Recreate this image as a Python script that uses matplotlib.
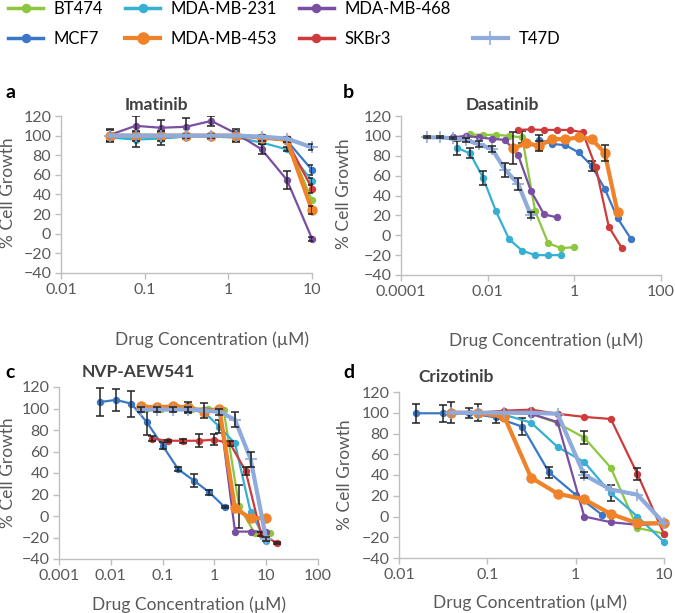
import matplotlib
matplotlib.use('Agg')
import matplotlib.pyplot as plt
from matplotlib.lines import Line2D
from matplotlib.ticker import FixedLocator, FixedFormatter, NullLocator

plt.rcParams['font.family'] = ['Lato', 'DejaVu Sans']

# ---------------- data ----------------
SERIES = ['BT474', 'MCF7', 'MDA-MB-231', 'MDA-MB-468', 'SKBr3', 'MDA-MB-453', 'T47D']
COLORS = {'BT474': '#8DC63F', 'MCF7': '#3A78C7', 'MDA-MB-231': '#36B0D2',
          'MDA-MB-468': '#7A4FA1', 'SKBr3': '#CF3B3B', 'MDA-MB-453': '#F0822A',
          'T47D': '#8EABDC'}

Y_TICKS = [-40, -20, 0, 20, 40, 60, 80, 100, 120]

# a: Imatinib
IMA_X = [0.039, 0.078, 0.156, 0.3125, 0.625, 1.25, 2.5, 5, 10]
IMA_XTICKS = [0.01, 0.1, 1, 10]
IMA_XLABELS = ['0.01', '0.1', '1', '10']
IMA_BT474 = [100, 99, 100, 100, 100, 100, 98, 96, 34]
IMA_MCF7 = [100, 100, 100, 100, 100, 100, 98, 95, 65]
IMA_231 = [98, 96, 97, 99, 99, 98, 93, 86, 54]
IMA_453 = [100, 100, 100, 100, 100, 100, 98, 96, 24]
IMA_468 = [101, 110, 108, 109, 115, 102, 86, 55, -5]
IMA_SKBR3 = [100, 100, 100, 100, 100, 100, 98, 95, 46]
IMA_T47D = [100, 100, 100, 100, 100, 100, 99, 97, 88]
IMA_ERR_468 = [6, 10, 8, 9, 5, 3, 5, 9, 2]
IMA_ERR_453 = [6, 5, 5, 2, 2, 7, 3, 3, 4]
IMA_ERR_231 = [3, 8, 7, 2, 2, 3, 2, 2, 3]
IMA_ERR_T47D = [0, 0, 0, 0, 0, 0, 0, 0, 3]
IMA_ERR_MCF7 = [0, 0, 0, 0, 0, 0, 0, 0, 5]
IMA_ERR_SKBR3 = [0, 0, 0, 0, 0, 0, 0, 0, 4]

# b: Dasatinib
DAS_XTICKS = [0.0001, 0.01, 1, 100]
DAS_XLABELS = ['0.0001', '0.01', '1', '100']
DAS_X_BT474 = [0.0039, 0.0078, 0.0156, 0.03125, 0.0625, 0.125, 0.25, 0.5, 1]
DAS_BT474 = [101.5, 101, 101, 100, 98.5, 24, -8, -13, -12]
DAS_ERR_BT474 = [0, 0, 0, 0, 6, 0, 0, 0, 0]
DAS_X_MCF7 = [0.156, 0.3125, 0.625, 1.25, 2.5, 5, 10, 20]
DAS_MCF7 = [96, 92, 90.5, 83.5, 70, 47, 17, -3.3]
DAS_ERR_MCF7 = [5, 0, 0, 0, 5, 0, 0, 0]
DAS_X_231 = [0.00195, 0.0039, 0.0078, 0.0156, 0.03125, 0.0625, 0.125, 0.25, 0.5]
DAS_231 = [88, 82.5, 58, 24, -4, -15.5, -20, -20, -20]
DAS_ERR_231 = [7, 5, 7, 0, 0, 0, 0, 0, 0]
DAS_X_468 = [0.00156, 0.003125, 0.00625, 0.0125, 0.025, 0.05, 0.1, 0.2, 0.4]
DAS_468 = [98.5, 100, 98.5, 97, 96, 81, 44.5, 21, 18]
DAS_X_SKBR3 = [0.049, 0.098, 0.195, 0.39, 0.78, 1.5625, 3.125, 6.25, 12.5]
DAS_SKBR3 = [106, 106.5, 106, 106, 106, 103.5, 68.5, 8.5, -13]
DAS_X_453 = [0.039, 0.078, 0.156, 0.3125, 0.625, 1.25, 2.5, 5, 10]
DAS_453 = [87.5, 92.5, 90, 97, 96.5, 98.5, 97, 83, 23]
DAS_ERR_453 = [16, 0, 5, 0, 0, 0, 0, 8, 0]
DAS_X_T47D = [0.00039, 0.00078, 0.00156, 0.003125, 0.00625, 0.0125, 0.025, 0.05, 0.1]
DAS_T47D = [98.5, 98.5, 97.5, 96, 91.5, 87, 66, 52, 20]
DAS_ERR_T47D = [1, 1, 1, 2, 3, 3, 7, 6, 3]

# c: NVP-AEW541
NVP_XTICKS = [0.001, 0.01, 0.1, 1, 10, 100]
NVP_XLABELS = ['0.001', '0.01', '0.1', '1', '10', '100']
NVP_X = [0.039, 0.078, 0.156, 0.3125, 0.625, 1.25, 2.5, 5, 10]
NVP_X_BT474 = [0.047, 0.094, 0.1875, 0.375, 0.75, 1.5, 3, 6, 12]
NVP_BT474 = [100, 100, 101, 100, 100, 99, 9, -16, -16]
NVP_ERR_BT474 = [0, 0, 0, 0, 0, 0, 20, 0, 0]
NVP_X_MCF7 = [0.00625, 0.0125, 0.025, 0.05, 0.1, 0.2, 0.4, 0.8, 1.6]
NVP_MCF7 = [106, 108, 104.5, 87, 65.5, 43.5, 33, 22, 8]
NVP_ERR_MCF7 = [13, 10, 12, 12, 3, 2, 6, 2, 1]
NVP_231 = [100, 100, 100, 99, 97, 83, 67.5, 3.5, -23]
NVP_ERR_231 = [0, 0, 0, 0, 0, 6, 0, 0, 0]
NVP_468 = [100, 100, 100, 100, 99, 99, -14.5, -14.5, -14.5]
NVP_X_SKBR3 = [0.0625, 0.125, 0.25, 0.5, 1, 2, 4, 8, 16]
NVP_SKBR3 = [72, 70, 70, 70, 71, 67.5, 42, -17, -25]
NVP_ERR_SKBR3 = [2, 1, 2, 6, 5, 2, 4, 2, 1]
NVP_453 = [102, 101, 102, 101, 97, 99.5, 7, -2, -2]
NVP_ERR_453 = [0, 0, 0, 5, 0, 0, 0, 0, 0]
NVP_T47D = [99, 99, 99, 99, 98, 97, 89.5, 53, -21.5]
NVP_ERR_T47D = [2, 2, 2, 2, 7, 3, 7, 7, 2]

# d: Crizotinib
CRI_XTICKS = [0.01, 0.1, 1, 10]
CRI_XLABELS = ['0.01', '0.1', '1', '10']
CRI_X = [0.039, 0.078, 0.156, 0.3125, 0.625, 1.25, 2.5, 5, 10]
CRI_BT474 = [100, 100, 100, 99, 90, 76, 47, -11, -16.5]
CRI_ERR_BT474 = [0, 0, 0, 0, 0, 6, 0, 0, 0]
CRI_X_MCF7 = [0.0156, 0.03125, 0.0625, 0.125, 0.25, 0.5, 1, 2]
CRI_MCF7 = [99.5, 99.5, 99.5, 95.5, 86.5, 42.5, 21, 1.5]
CRI_ERR_MCF7 = [9, 8, 5, 5, 8, 5, 0, 0]
CRI_231 = [100, 100, 98, 90.5, 67, 52.5, 22.5, 0, -24.5]
CRI_ERR_231 = [0, 0, 0, 0, 0, 0, 8, 0, 0]
CRI_468 = [100, 100, 100, 99, 91, 0, -5.5, -8, -7]
CRI_SKBR3 = [100, 100, 102, 103, 99, 96, 94, 41, -17]
CRI_ERR_SKBR3 = [0, 0, 0, 0, 0, 0, 0, 6, 0]
CRI_453 = [100, 100, 96, 37.5, 22, 16.5, 2.5, -6.5, -6.5]
CRI_ERR_453 = [10, 8, 0, 0, 0, 0, 0, 0, 0]
CRI_T47D = [100, 100, 100, 100, 99, 40, 26, 21, -6.5]
CRI_ERR_T47D = [0, 0, 0, 0, 0, 3, 0, 0, 0]

# ---------------- styles ----------------
def style(name):
    if name == 'MDA-MB-453':
        return dict(marker='o', ms=7.5, lw=3.0)
    if name == 'T47D':
        return dict(marker='+', ms=9, lw=3.0, mew=1.2)
    return dict(marker='o', ms=5.3, lw=1.6)

fig = plt.figure(figsize=(6.75, 6.13), dpi=100)
W, H = 675.0, 613.0

def make_ax(l, r, t, b):
    return fig.add_axes([l / W, 1 - b / H, (r - l) / W, (b - t) / H])

GRAY_AX = '#BFBFBF'
TXT = '#595959'

def setup(ax, xticks, xlabels, xlim):
    ax.set_xscale('log')
    ax.set_xlim(*xlim)
    ax.set_ylim(-40, 120)
    ax.xaxis.set_major_locator(FixedLocator(xticks))
    ax.xaxis.set_major_formatter(FixedFormatter(xlabels))
    ax.xaxis.set_minor_locator(NullLocator())
    ax.set_yticks(Y_TICKS)
    for s in ['top', 'right']:
        ax.spines[s].set_visible(False)
    for s in ['left', 'bottom']:
        ax.spines[s].set_color(GRAY_AX)
        ax.spines[s].set_linewidth(1.0)
    ax.tick_params(axis='both', direction='out', length=4, width=1, color=GRAY_AX,
                   labelcolor=TXT, labelsize=11.5, pad=3)
    ax.set_ylabel('% Cell Growth', color=TXT, fontsize=12.5)
    ax.set_xlabel('Drug Concentration (µM)', color=TXT, fontsize=12.5)

def plot(ax, name, x, y, err=None, z=2):
    st = style(name)
    c = COLORS[name]
    ax.plot(x, y, color=c, marker=st['marker'], ms=st['ms'], lw=st['lw'],
            mew=st.get('mew', 0), mec=c, mfc=c, zorder=z, clip_on=False)
    if err is not None:
        xe = [xi for xi, e in zip(x, err) if e > 0]
        ye = [yi for yi, e in zip(y, err) if e > 0]
        ee = [e for e in err if e > 0]
        ax.errorbar(xe, ye, yerr=ee, fmt='none', ecolor='#222222', elinewidth=1.1,
                    capsize=2.6, capthick=1.1, zorder=z + 0.5)

# ---- a ----
axa = make_ax(61, 312, 116, 273)
setup(axa, IMA_XTICKS, IMA_XLABELS, (0.01, 10))
plot(axa, 'BT474', IMA_X, IMA_BT474, None, 2)
plot(axa, 'MCF7', IMA_X, IMA_MCF7, IMA_ERR_MCF7, 3)
plot(axa, 'MDA-MB-231', IMA_X, IMA_231, IMA_ERR_231, 4)
plot(axa, 'MDA-MB-468', IMA_X, IMA_468, IMA_ERR_468, 5)
plot(axa, 'SKBr3', IMA_X, IMA_SKBR3, IMA_ERR_SKBR3, 6)
plot(axa, 'MDA-MB-453', IMA_X, IMA_453, IMA_ERR_453, 7)
plot(axa, 'T47D', IMA_X, IMA_T47D, IMA_ERR_T47D, 8)
axa.xaxis.set_label_coords(0.60, -0.37)
axa.yaxis.set_label_coords(-0.18, 0.51)
axa.text(0.38, 1.07, 'Imatinib', transform=axa.transAxes, ha='center', va='center',
         fontsize=12.5, fontweight='bold', color='#404040')

# ---- b ----
axb = make_ax(401, 661, 116, 275)
setup(axb, DAS_XTICKS, DAS_XLABELS, (0.0001, 100))
plot(axb, 'BT474', DAS_X_BT474, DAS_BT474, DAS_ERR_BT474, 2)
plot(axb, 'MCF7', DAS_X_MCF7, DAS_MCF7, DAS_ERR_MCF7, 3)
plot(axb, 'MDA-MB-231', DAS_X_231, DAS_231, DAS_ERR_231, 4)
plot(axb, 'MDA-MB-468', DAS_X_468, DAS_468, None, 5)
plot(axb, 'SKBr3', DAS_X_SKBR3, DAS_SKBR3, None, 6)
plot(axb, 'MDA-MB-453', DAS_X_453, DAS_453, DAS_ERR_453, 7)
plot(axb, 'T47D', DAS_X_T47D, DAS_T47D, DAS_ERR_T47D, 8)
axb.xaxis.set_label_coords(0.558, -0.36)
axb.yaxis.set_label_coords(-0.19, 0.51)
axb.text(0.39, 1.07, 'Dasatinib', transform=axb.transAxes, ha='center', va='center',
         fontsize=12.5, fontweight='bold', color='#404040')

# ---- c ----
axc = make_ax(59, 318, 387, 559)
setup(axc, NVP_XTICKS, NVP_XLABELS, (0.001, 100))
plot(axc, 'BT474', NVP_X_BT474, NVP_BT474, NVP_ERR_BT474, 2)
plot(axc, 'MCF7', NVP_X_MCF7, NVP_MCF7, NVP_ERR_MCF7, 3)
plot(axc, 'MDA-MB-231', NVP_X, NVP_231, NVP_ERR_231, 4)
plot(axc, 'MDA-MB-468', NVP_X, NVP_468, None, 5)
plot(axc, 'SKBr3', NVP_X_SKBR3, NVP_SKBR3, NVP_ERR_SKBR3, 6)
plot(axc, 'MDA-MB-453', NVP_X, NVP_453, NVP_ERR_453, 7)
plot(axc, 'T47D', NVP_X, NVP_T47D, NVP_ERR_T47D, 8)
axc.xaxis.set_label_coords(0.5, -0.215)
axc.yaxis.set_label_coords(-0.165, 0.5)
axc.text(0.305, 1.09, 'NVP-AEW541', transform=axc.transAxes, ha='center', va='center',
         fontsize=12.5, fontweight='bold', color='#404040')

# ---- d ----
axd = make_ax(399, 664, 392, 558)
setup(axd, CRI_XTICKS, CRI_XLABELS, (0.01, 10))
plot(axd, 'BT474', CRI_X, CRI_BT474, CRI_ERR_BT474, 2)
plot(axd, 'MCF7', CRI_X_MCF7, CRI_MCF7, CRI_ERR_MCF7, 3)
plot(axd, 'MDA-MB-231', CRI_X, CRI_231, CRI_ERR_231, 4)
plot(axd, 'MDA-MB-468', CRI_X, CRI_468, None, 5)
plot(axd, 'SKBr3', CRI_X, CRI_SKBR3, CRI_ERR_SKBR3, 6)
plot(axd, 'MDA-MB-453', CRI_X, CRI_453, CRI_ERR_453, 7)
plot(axd, 'T47D', CRI_X, CRI_T47D, CRI_ERR_T47D, 8)
axd.xaxis.set_label_coords(0.494, -0.222)
axd.yaxis.set_label_coords(-0.172, 0.5)
axd.text(0.214, 1.09, 'Crizotinib', transform=axd.transAxes, ha='center', va='center',
         fontsize=12.5, fontweight='bold', color='#404040')

# panel letters
for lbl, (px, py) in zip(['a', 'b', 'c', 'd'], [(5, 92), (343, 92), (5, 372), (343, 372)]):
    fig.text(px / W, 1 - py / H, lbl, fontsize=14, fontweight='bold', color='black',
             ha='left', va='center')

# legend
def handle(name):
    st = style(name)
    c = COLORS[name]
    return Line2D([0], [0], color=c, marker=st['marker'], ms=st['ms'] + 1.5,
                  lw=max(st['lw'], 2.5), mew=st.get('mew', 0), mec=c, mfc=c)

blank = Line2D([0], [0], color='none', lw=0)
order = ['BT474', 'MCF7', 'MDA-MB-231', 'MDA-MB-453', 'MDA-MB-468', 'SKBr3', None, 'T47D']
handles = [handle(n) if n else blank for n in order]
labels = [n if n else '' for n in order]
fig.legend(handles, labels, loc='upper left', bbox_to_anchor=(8 / W, 1 - 1 / H),
           ncol=4, frameon=False, fontsize=12, handlelength=2.1, handletextpad=0.65,
           columnspacing=1.3, labelspacing=0.85, borderpad=0, borderaxespad=0,
           labelcolor='black')

fig.savefig('out.png', dpi=100)
